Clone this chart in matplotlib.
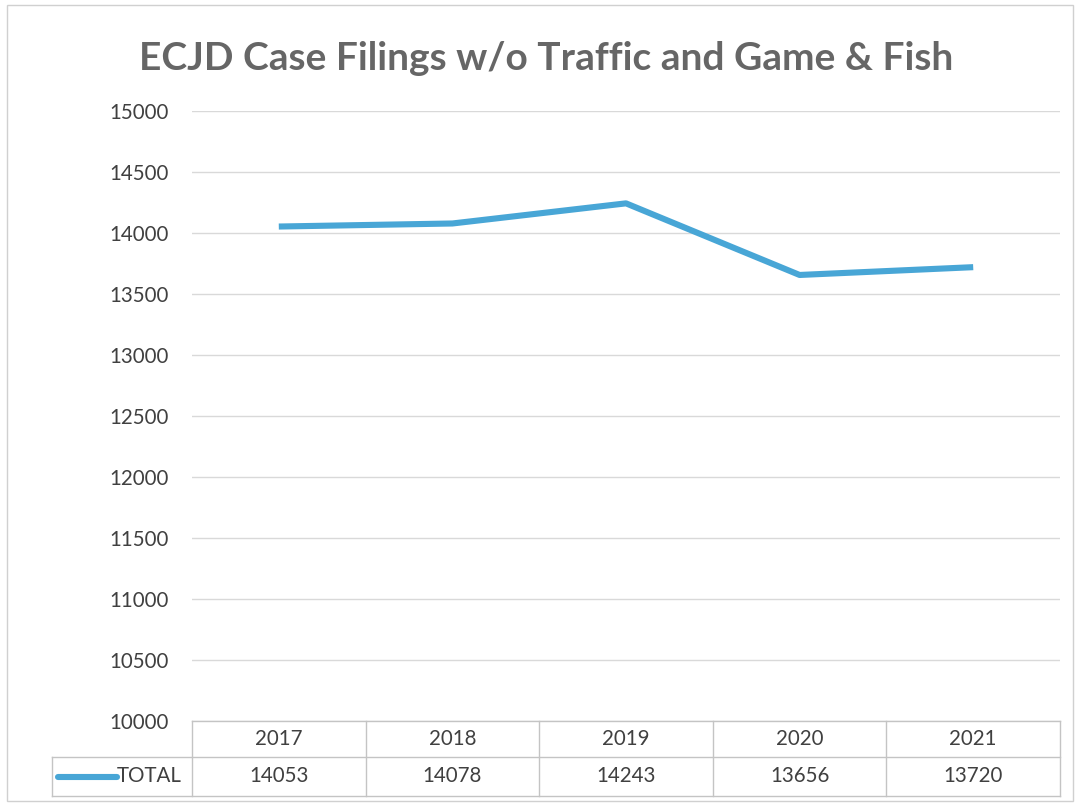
import matplotlib
matplotlib.use("Agg")
import matplotlib.pyplot as plt
from matplotlib.lines import Line2D
from matplotlib.patches import Rectangle

# datos
years = ["2017", "2018", "2019", "2020", "2021"]
totals = [14053, 14078, 14243, 13656, 13720]
series_name = "TOTAL"
y_ticks = list(range(10000, 15001, 500))

line_color = "#48a6d6"
grid_color = "#d9d9d9"
table_color = "#c4c4c4"
text_color = "#404040"

plt.rcParams["font.family"] = ["Lato", "DejaVu Sans"]

fig = plt.figure(figsize=(10.78, 8.06), dpi=100)
ax = fig.add_axes([192 / 1078, 1 - 721 / 806, 868 / 1078, 610 / 806])

x = list(range(len(years)))
ax.plot(x, totals, color=line_color, lw=4.4, solid_capstyle="butt", zorder=3)

ax.set_xlim(-0.5, len(years) - 0.5)
ax.set_ylim(y_ticks[0], y_ticks[-1])
ax.set_yticks(y_ticks)
ax.set_xticks([])
ax.grid(axis="y", color=grid_color, lw=1)
ax.set_axisbelow(True)
for s in ax.spines.values():
    s.set_visible(False)
ax.tick_params(axis="y", length=0, pad=17, labelsize=14.8, labelcolor=text_color)

fig.text(546 / 1078, 1 - 59 / 806, "ECJD Case Filings w/o Traffic and Game & Fish",
         ha="center", va="center", fontsize=28, fontweight="bold", color="#666666")

# tabla de datos bajo el eje
px_w, px_h = 868.0, 610.0
def ax_x(px):
    return (px - 192) / px_w
def ax_y(py):
    return (721 - py) / px_h

top, mid, bot = ax_y(721), ax_y(757), ax_y(796)
left_lab = ax_x(52)
col_w = 1.0 / len(years)
kw = dict(transform=ax.transAxes, clip_on=False, color=table_color, lw=1)

ax.add_line(Line2D([0, 1], [top, top], **kw))
ax.add_line(Line2D([left_lab, 1], [mid, mid], **kw))
ax.add_line(Line2D([left_lab, 1], [bot, bot], **kw))
ax.add_line(Line2D([left_lab, left_lab], [mid, bot], **kw))
for i in range(len(years) + 1):
    ax.add_line(Line2D([i * col_w, i * col_w], [top, bot], **kw))

for i, (yr, v) in enumerate(zip(years, totals)):
    cx = (i + 0.5) * col_w
    ax.text(cx, (top + mid) / 2, yr, transform=ax.transAxes, ha="center", va="center",
            fontsize=14.8, color=text_color)
    ax.text(cx, (mid + bot) / 2, str(v), transform=ax.transAxes, ha="center", va="center",
            fontsize=14.8, color=text_color)

# muestra de leyenda en la celda de la serie
ly = (mid + bot) / 2
ax.add_line(Line2D([ax_x(58), ax_x(117)], [ly, ly], transform=ax.transAxes, clip_on=False,
                   color=line_color, lw=4.4, solid_capstyle="round"))
ax.text(ax_x(117), ly, series_name, transform=ax.transAxes, ha="left", va="center",
        fontsize=14.8, color=text_color)

# borde del gráfico
fig.add_artist(Rectangle((7 / 1078, 1 - 801 / 806), 1066 / 1078, 796 / 806,
                         transform=fig.transFigure, fill=False, ec="#d0d0d0", lw=1))

fig.savefig("out.png", dpi=100)
